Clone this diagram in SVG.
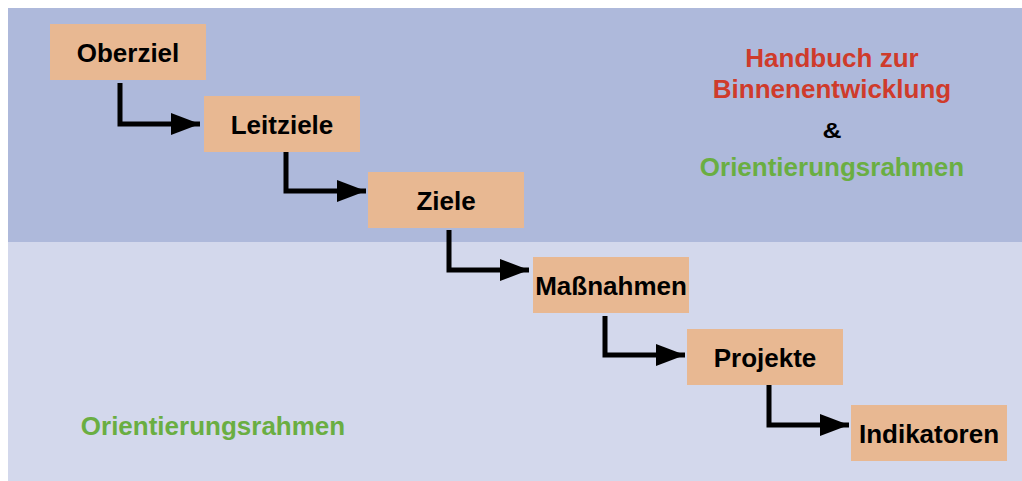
<svg xmlns="http://www.w3.org/2000/svg" width="1022" height="481" viewBox="0 0 1022 481">
<style>
.box{fill:#e8b892}
.lbl{font-family:"Liberation Sans",Arial,sans-serif;font-weight:bold;font-size:26px;fill:#000;text-anchor:middle}
.big{font-family:"Liberation Sans",Arial,sans-serif;font-weight:bold;font-size:26px;text-anchor:middle}
.conn{fill:none;stroke:#000;stroke-width:5;stroke-linejoin:miter}
</style>
<defs>
<marker id="ah" markerUnits="userSpaceOnUse" markerWidth="32" markerHeight="24" refX="29" refY="11" orient="auto">
<path d="M0,0 L29,11 L0,22 Z" fill="#000"/>
</marker>
</defs>
<rect x="0" y="0" width="1022" height="481" fill="#ffffff"/>
<rect x="8" y="8" width="1014" height="234" fill="#aeb9db"/>
<rect x="8" y="242" width="1014" height="239" fill="#d3d8ec"/>
<g id="connectors">
<path class="conn" d="M120,83 V124 H200" marker-end="url(#ah)"/>
<path class="conn" d="M286,152 V191 H366" marker-end="url(#ah)"/>
<path class="conn" d="M449,230 V270 H529" marker-end="url(#ah)"/>
<path class="conn" d="M605,316 V355 H685" marker-end="url(#ah)"/>
<path class="conn" d="M769,385 V425 H849" marker-end="url(#ah)"/>
</g>
<g id="oberziel"><rect class="box" x="50" y="24" width="156" height="56"/><text class="lbl" x="128" y="61.5">Oberziel</text></g>
<g id="leitziele"><rect class="box" x="204" y="96" width="156" height="56"/><text class="lbl" x="282" y="133.5">Leitziele</text></g>
<g id="ziele"><rect class="box" x="368" y="172" width="156" height="56"/><text class="lbl" x="446" y="209.5">Ziele</text></g>
<g id="massnahmen"><rect class="box" x="533" y="257" width="156" height="56"/><text class="lbl" x="611" y="294.5">Maßnahmen</text></g>
<g id="projekte"><rect class="box" x="687" y="329" width="156" height="56"/><text class="lbl" x="765" y="366.5">Projekte</text></g>
<g id="indikatoren"><rect class="box" x="851" y="405" width="156" height="56"/><text class="lbl" x="929" y="442.5">Indikatoren</text></g>
<g id="title">
<text class="big" x="832" y="66.5" fill="#cf3b2b">Handbuch zur</text>
<text class="big" x="832" y="98" fill="#cf3b2b">Binnenentwicklung</text>
<text class="big" x="0" y="0" fill="#000" style="font-size:22px" transform="translate(832,137.5) scale(1.2,1)">&amp;</text>
<text class="big" x="832" y="176" fill="#6aae42">Orientierungsrahmen</text>
</g>
<g id="bottom-label">
<text class="big" x="213" y="434.5" fill="#6aae42">Orientierungsrahmen</text>
</g>
</svg>
